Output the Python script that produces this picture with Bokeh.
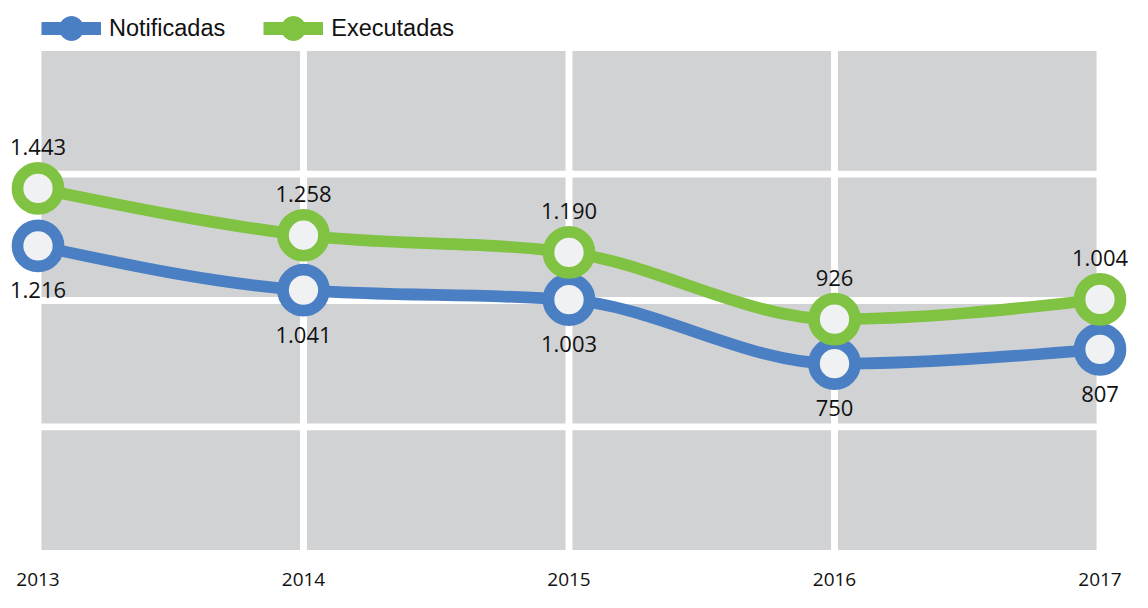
import numpy as np
from bokeh.plotting import figure
from bokeh.models import Legend, LegendItem, Range1d
from bokeh.core.properties import value
from bokeh.embed import file_html
from bokeh.resources import INLINE

# ---- data ----
years = [2013, 2014, 2015, 2016, 2017]
notificadas = [1216, 1041, 1003, 750, 807]
executadas = [1443, 1258, 1190, 926, 1004]
y_grid = [0, 500, 1000, 1500, 2000]
year_labels = ["2013", "2014", "2015", "2016", "2017"]

BLUE = "#4a7fc4"
GREEN = "#80c241"
CELL = "#d1d2d4"
FILL = "#f0f1f3"
TXT = "#111111"

W, H = 1132, 592
PX_YEAR = 265.5          # pixels per year
PX_UNIT = 0.25287        # pixels per unit of value
X_FIRST = 37.5           # pixel position of first year
Y_ZERO = 552.85          # pixel position (from top) of value 0
x_start = years[0] - X_FIRST / PX_YEAR
x_end = x_start + W / PX_YEAR
y_end = Y_ZERO / PX_UNIT
y_start = y_end - H / PX_UNIT

p = figure(width=W, height=H, x_range=Range1d(x_start, x_end),
           y_range=Range1d(y_start, y_end), output_backend="svg",
           toolbar_location=None, min_border=0,
           x_axis_location=None, y_axis_location=None)
p.grid.visible = False
p.outline_line_color = None
p.background_fill_color = "white"
p.border_fill_color = "white"

# ---- gray cells separated by white gaps ----
gx = 3.45 / PX_YEAR
gy = 3.4 / PX_UNIT
L, R, B, T = [], [], [], []
for i in range(len(years) - 1):
    for j in range(len(y_grid) - 1):
        L.append(years[i] + gx)
        R.append(years[i + 1] - gx)
        B.append(y_grid[j] + gy)
        T.append(y_grid[j + 1] - gy)
p.quad(left=L, right=R, bottom=B, top=T, fill_color=CELL, line_color=None)


# ---- monotone cubic (like d3.curveMonotoneX) rendered with beziers ----
def monotone_segments(xs, ys):
    xs = np.asarray(xs, float)
    ys = np.asarray(ys, float)
    n = len(xs)
    h = np.diff(xs)
    s = np.diff(ys) / h
    m = np.zeros(n)
    for k in range(1, n - 1):
        s0, s1 = s[k - 1], s[k]
        pp = (s0 * h[k] + s1 * h[k - 1]) / (h[k - 1] + h[k])
        m[k] = (np.sign(s0) + np.sign(s1)) * min(abs(s0), abs(s1), 0.5 * abs(pp))
    m[0] = (3 * s[0] - m[1]) / 2
    m[-1] = (3 * s[-1] - m[-2]) / 2
    seg = dict(x0=[], y0=[], x1=[], y1=[], cx0=[], cy0=[], cx1=[], cy1=[])
    for k in range(n - 1):
        d = h[k] / 3
        seg["x0"].append(xs[k]); seg["y0"].append(ys[k])
        seg["x1"].append(xs[k + 1]); seg["y1"].append(ys[k + 1])
        seg["cx0"].append(xs[k] + d); seg["cy0"].append(ys[k] + m[k] * d)
        seg["cx1"].append(xs[k + 1] - d); seg["cy1"].append(ys[k + 1] - m[k + 1] * d)
    return seg


def fmt(v):
    return f"{v:,}".replace(",", ".")


for vals, color in ((notificadas, BLUE), (executadas, GREEN)):
    seg = monotone_segments(years, vals)
    p.bezier(**seg, line_color=color, line_width=11.7, line_cap="round")
    p.scatter(x=years, y=vals, size=41, marker="circle", fill_color=FILL,
              line_color=color, line_width=11.7)

# ---- data labels ----
p.text(x=years, y=executadas, text=[fmt(v) for v in executadas],
       text_align="center", text_baseline="middle", y_offset=-41,
       text_font=value("Open Sans"), text_font_size="22px", text_color=TXT)
p.text(x=years, y=notificadas, text=[fmt(v) for v in notificadas],
       text_align="center", text_baseline="middle", y_offset=44.5,
       text_font=value("Open Sans"), text_font_size="22px", text_color=TXT)

# ---- year labels along the bottom ----
y_year = y_end - 578.5 / PX_UNIT
p.text(x=years, y=[y_year] * len(years), text=year_labels,
       text_align="center", text_baseline="middle",
       text_font=value("Open Sans"), text_font_size="19px", text_color=TXT)

# ---- legend (keys from renderers holding a single NaN point) ----
nan = [np.nan]
lb = p.line(x=nan, y=nan, line_color=BLUE, line_width=13)
sb = p.scatter(x=nan, y=nan, marker="circle", fill_color=BLUE, line_color=BLUE)
lg = p.line(x=nan, y=nan, line_color=GREEN, line_width=13)
sg = p.scatter(x=nan, y=nan, marker="circle", fill_color=GREEN, line_color=GREEN)

legend = Legend(items=[LegendItem(label="Notificadas", renderers=[lb, sb]),
                       LegendItem(label="Executadas", renderers=[lg, sg])],
                orientation="horizontal", location=(41, 529),
                glyph_width=60, glyph_height=70, label_standoff=8,
                spacing=38, padding=0, margin=0,
                label_text_font="Liberation Sans", label_text_font_size="23.5px",
                label_text_color=TXT,
                background_fill_alpha=0, border_line_alpha=0)
p.add_layout(legend)

open("out.html", "w").write(file_html(p, INLINE))
